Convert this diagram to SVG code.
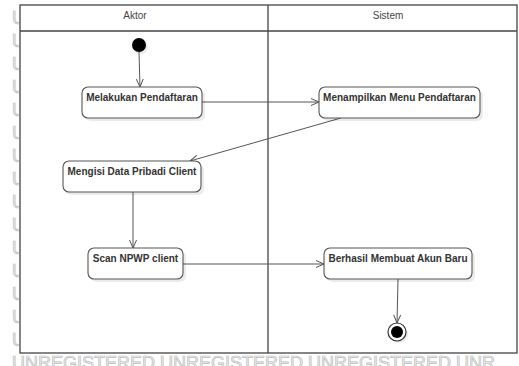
<svg xmlns="http://www.w3.org/2000/svg" width="519" height="366" viewBox="0 0 519 366">
<style>
.wm{font-family:"Liberation Sans",Arial,sans-serif;font-size:18px;fill:#efefef;stroke:#bdbdbd;stroke-width:0.7}
.hdr{font-family:"Liberation Sans",Arial,sans-serif;font-size:10px;fill:#444;text-anchor:middle}
.box{fill:#fff;stroke:#555;stroke-width:1.1}
.sh{fill:#000;opacity:0.08}
.lbl{font-family:"Liberation Sans",Arial,sans-serif;font-size:10px;font-weight:bold;fill:#333;text-anchor:middle}
.conn{fill:none;stroke:#555;stroke-width:1}
</style>
<defs>
<marker id="arr" markerWidth="10" markerHeight="10" refX="9" refY="4" orient="auto" markerUnits="userSpaceOnUse">
<path d="M1,0.5 L9,4 L1,7.5" fill="none" stroke="#555" stroke-width="1"/>
</marker>
<clipPath id="leftedge"><rect x="0" y="0" width="19" height="366"/></clipPath>
</defs>
<rect width="519" height="366" fill="#fff"/>
<g id="watermark">
<g clip-path="url(#leftedge)">
<text class="wm" x="12" y="24">U</text>
<text class="wm" x="12" y="47">U</text>
<text class="wm" x="12" y="70">U</text>
<text class="wm" x="12" y="93">U</text>
<text class="wm" x="12" y="116">U</text>
<text class="wm" x="12" y="139">U</text>
<text class="wm" x="12" y="162">U</text>
<text class="wm" x="12" y="185">U</text>
<text class="wm" x="12" y="208">U</text>
<text class="wm" x="12" y="231">U</text>
<text class="wm" x="12" y="254">U</text>
<text class="wm" x="12" y="277">U</text>
<text class="wm" x="12" y="300">U</text>
<text class="wm" x="12" y="323">U</text>
<text class="wm" x="12" y="346">U</text>
</g>
<text class="wm" x="12" y="369">UNREGISTERED UNREGISTERED UNREGISTERED UNR</text>
</g>
<g id="swimlanes">
<rect x="20" y="5" width="497" height="348" fill="#fff" stroke="#444" stroke-width="1.3"/>
<line x1="20" y1="31" x2="517" y2="31" stroke="#444" stroke-width="1.3"/>
<line x1="268" y1="5" x2="268" y2="353" stroke="#444" stroke-width="1.3"/>
<text class="hdr" x="135" y="18.5">Aktor</text>
<text class="hdr" x="388" y="18.5">Sistem</text>
</g>
<g id="connectors">
<line class="conn" x1="139" y1="52" x2="140" y2="87" marker-end="url(#arr)"/>
<line class="conn" x1="202" y1="102" x2="319" y2="102" marker-end="url(#arr)"/>
<line class="conn" x1="341" y1="118" x2="190" y2="161" marker-end="url(#arr)"/>
<line class="conn" x1="133" y1="192" x2="133" y2="248" marker-end="url(#arr)"/>
<line class="conn" x1="183" y1="264" x2="324" y2="264" marker-end="url(#arr)"/>
<line class="conn" x1="398" y1="279" x2="397" y2="323" marker-end="url(#arr)"/>
</g>
<g id="start">
<circle cx="141" cy="47" r="7" class="sh"/>
<circle cx="139" cy="45" r="7" fill="#000"/>
</g>
<g id="n1">
<rect class="sh" x="85" y="90" width="120" height="31" rx="6"/>
<rect class="box" x="82" y="87" width="120" height="31" rx="6"/>
<text class="lbl" x="142" y="100.5">Melakukan Pendaftaran</text>
</g>
<g id="n2">
<rect class="sh" x="322" y="90" width="161" height="31" rx="6"/>
<rect class="box" x="319" y="87" width="161" height="31" rx="6"/>
<text class="lbl" x="399.5" y="100.5">Menampilkan Menu Pendaftaran</text>
</g>
<g id="n3">
<rect class="sh" x="66" y="164" width="138" height="31" rx="6"/>
<rect class="box" x="63" y="161" width="138" height="31" rx="6"/>
<text class="lbl" x="132" y="174.5">Mengisi Data Pribadi Client</text>
</g>
<g id="n4">
<rect class="sh" x="91" y="251" width="95" height="31" rx="6"/>
<rect class="box" x="88" y="248" width="95" height="31" rx="6"/>
<text class="lbl" x="135.5" y="261.5">Scan NPWP client</text>
</g>
<g id="n5">
<rect class="sh" x="327" y="251" width="148" height="31" rx="6"/>
<rect class="box" x="324" y="248" width="148" height="31" rx="6"/>
<text class="lbl" x="398" y="261.5">Berhasil Membuat Akun Baru</text>
</g>
<g id="end">
<circle cx="399" cy="334" r="9" class="sh"/>
<circle cx="397" cy="332" r="9" fill="#fff" stroke="#333" stroke-width="1.2"/>
<circle cx="397" cy="332" r="6" fill="#000"/>
</g>
</svg>
